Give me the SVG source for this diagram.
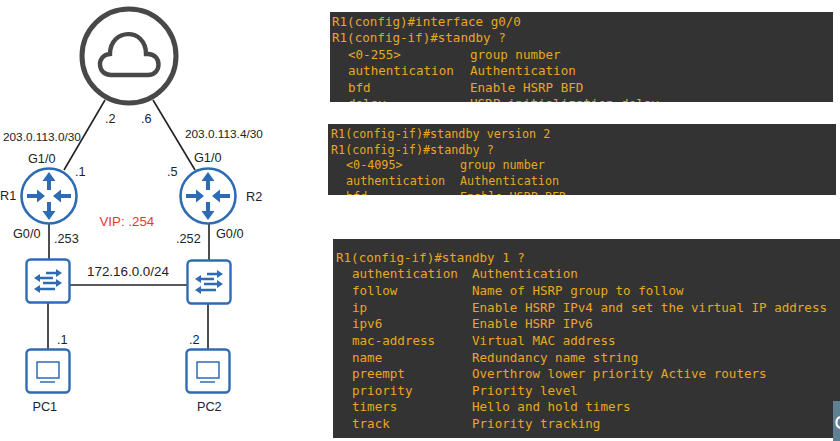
<svg xmlns="http://www.w3.org/2000/svg" width="840" height="441" viewBox="0 0 840 441">
<style>
.l{font:12.7px "Liberation Sans",Arial,sans-serif;fill:#222}
.s{font-size:11.8px}
.c{stroke:#222;stroke-width:1.6;fill:none}
.b{fill:#fff;stroke:#2d6cb5;stroke-width:2.4}
.a{fill:none;stroke:#2d6cb5;stroke-width:2.6}
.t{font-family:"DejaVu Sans Mono","Liberation Mono",monospace;fill:#e8a820}
.t1{font-size:12.55px}.t2{font-size:11.75px}
</style>
<defs>
<clipPath id="cp1"><rect x="330" y="12" width="503" height="90"/></clipPath>
<clipPath id="cp2"><rect x="328" y="124" width="508" height="71"/></clipPath>
<g id="rt">
<circle r="27.500" fill="#fff" stroke="#2d6cb5" stroke-width="2.600"/>
<path d="M0-6V-18M0 6V18M-22 0H-8M22 0H8" stroke="#2d6cb5" stroke-width="4" fill="none"/>
<path d="M0-24L-6.500-15H6.500ZM0 24L-6.500 15H6.500ZM-4 0L-12-6.500V6.500ZM4 0L12-6.500V6.500Z" fill="#2d6cb5"/>
</g>
<g id="sw">
<rect x="-21.500" y="-21.500" width="43" height="43" rx="4" class="b"/>
<path d="M-2-8H10M5-3H-10M-5 2H10M7 8H-10" class="a"/>
<path d="M14-8L8-12V-4ZM-14-3L-8-7V1ZM14 2L8-2V6ZM-14 8L-8 4V12Z" fill="#2d6cb5"/>
</g>
<g id="pc">
<rect x="-21.500" y="-21.500" width="43" height="43" rx="4" class="b"/>
<rect x="-11" y="-9" width="22" height="16" fill="none" stroke="#2d6cb5" stroke-width="1.500"/>
<path d="M-8 11H7" stroke="#2d6cb5" stroke-width="1.500"/>
</g>
</defs>
<rect width="840" height="441" fill="#fff"/>
<g id="connectors">
<path class="c" d="M105 100L64 170"/>
<path class="c" d="M153 100L195 170"/>
<path class="c" d="M49 222V260"/>
<path class="c" d="M209 222V261"/>
<path class="c" d="M70 285H187"/>
<path class="c" d="M48 303V350"/>
<path class="c" d="M208 304V350"/>
</g>
<g id="cloud">
<circle cx="129" cy="56" r="47" fill="#fff" stroke="#484848" stroke-width="5"/>
<path d="M111 75H148C162 75 162 54 148 54H146C146 27 110 28 110 54C96 55 97 75 111 75Z" fill="none" stroke="#484848" stroke-width="4.400"/>
</g>
<g id="R1"><use href="#rt" x="49" y="196"/><text class="l" x="0" y="200">R1</text></g>
<g id="R2"><use href="#rt" x="208" y="196"/><text class="l" x="246" y="201">R2</text></g>
<g id="SW1"><use href="#sw" x="48" y="281"/></g>
<g id="SW2"><use href="#sw" x="209" y="282"/></g>
<g id="PC1"><use href="#pc" x="48" y="371"/><text class="l" x="32.500" y="411">PC1</text></g>
<g id="PC2"><use href="#pc" x="208" y="371"/><text class="l" x="197" y="411">PC2</text></g>
<g id="labels">
<text class="l" x="105" y="123">.2</text>
<text class="l" x="141" y="123">.6</text>
<text class="l s" x="3" y="141">203.0.113.0/30</text>
<text class="l s" x="185" y="138">203.0.113.4/30</text>
<text class="l" x="28" y="163">G1/0</text>
<text class="l" x="194" y="162">G1/0</text>
<text class="l" x="75" y="176">.1</text>
<text class="l" x="167" y="176">.5</text>
<text x="99.500" y="226" style="font:13.300px 'Liberation Sans',Arial,sans-serif;fill:#e8392c">VIP: .254</text>
<text class="l" x="13" y="238">G0/0</text>
<text class="l" x="216" y="238">G0/0</text>
<text class="l" x="54" y="243">.253</text>
<text class="l" x="176" y="243">.252</text>
<text class="l" x="87" y="276" style="font-size:13.400px">172.16.0.0/24</text>
<text class="l" x="57" y="344">.1</text>
<text class="l" x="189" y="344">.2</text>
</g>
<g id="panel1">
<rect x="330" y="12" width="503" height="90" fill="#333"/>
<g class="t t1" clip-path="url(#cp1)">
<text x="332" y="25.500">R1(config)#interface g0/0</text>
<text x="332" y="42">R1(config-if)#standby ?</text>
<text x="348" y="58.500">&lt;0-255&gt;</text><text x="470" y="58.500">group number</text>
<text x="348" y="75">authentication</text><text x="470" y="75">Authentication</text>
<text x="348" y="91.600">bfd</text><text x="470" y="91.600">Enable HSRP BFD</text>
<text x="348" y="108.200">delay</text><text x="470" y="108.200">HSRP initialization delay</text>
</g>
</g>
<g id="panel2">
<rect x="328" y="124" width="508" height="71" fill="#333"/>
<g class="t t2" clip-path="url(#cp2)">
<text x="331" y="138">R1(config-if)#standby version 2</text>
<text x="331" y="153.500">R1(config-if)#standby ?</text>
<text x="346" y="169.200">&lt;0-4095&gt;</text><text x="460" y="169.200">group number</text>
<text x="346" y="185">authentication</text><text x="460" y="185">Authentication</text>
<text x="346" y="200.500">bfd</text><text x="460" y="200.500">Enable HSRP BFD</text>
</g>
</g>
<g id="panel3">
<rect x="333" y="239" width="507" height="199" fill="#333"/>
<g class="t t1">
<text x="336" y="261.500">R1(config-if)#standby 1 ?</text>
<text x="352" y="278">authentication</text><text x="472" y="278">Authentication</text>
<text x="352" y="295">follow</text><text x="472" y="295">Name of HSRP group to follow</text>
<text x="352" y="311.500">ip</text><text x="472" y="311.500">Enable HSRP IPv4 and set the virtual IP address</text>
<text x="352" y="328">ipv6</text><text x="472" y="328">Enable HSRP IPv6</text>
<text x="352" y="344.500">mac-address</text><text x="472" y="344.500">Virtual MAC address</text>
<text x="352" y="361.500">name</text><text x="472" y="361.500">Redundancy name string</text>
<text x="352" y="378">preempt</text><text x="472" y="378">Overthrow lower priority Active routers</text>
<text x="352" y="394.500">priority</text><text x="472" y="394.500">Priority level</text>
<text x="352" y="411">timers</text><text x="472" y="411">Hello and hold timers</text>
<text x="352" y="428">track</text><text x="472" y="428">Priority tracking</text>
</g>
</g>
<rect x="833" y="401" width="7" height="40" fill="#5f7f93"/>
<path d="M840 417A6 6 0 0 0 840 428" fill="none" stroke="#fff" stroke-width="2"/>
</svg>
